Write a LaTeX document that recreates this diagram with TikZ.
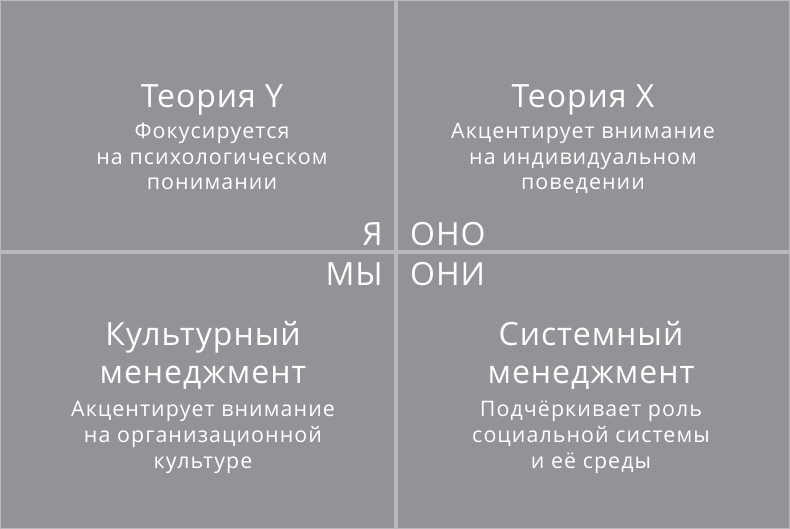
\documentclass[tikz,border=0pt]{standalone}
\usepackage{fontspec}
\setmainfont{Open Sans}[LetterSpace=3]
\newfontfamily\blurbfont{Open Sans}[LetterSpace=5]
\definecolor{quadgray}{HTML}{939397}
\definecolor{rulegray}{HTML}{BABABE}
\tikzset{
  quad/.style={fill=quadgray, draw=none},
  heading/.style={text=white, align=center, anchor=base, inner sep=0pt,
    font=\fontsize{32}{37.7}\selectfont},
  blurb/.style={text=white, align=center, anchor=base, inner sep=0pt,
    font=\blurbfont\fontsize{21.4}{25.8}\selectfont},
  pronoun/.style={text=white, inner sep=0pt, font=\fontsize{32}{37}\selectfont},
}
\begin{document}
\begin{tikzpicture}[x=1pt,y=-1pt]
      \useasboundingbox (0,0) rectangle (790,529);
      \fill[rulegray] (0,0) rectangle (790,529);
      \fill[quad] (1,1) rectangle (394,250);
      \fill[quad] (398,1) rectangle (789,250);
      \fill[quad] (1,254) rectangle (394,528);
      \fill[quad] (398,254) rectangle (789,528);
      % last line of each block sits on the given baseline
      \draw
        (212,108) node[heading] (thy){Теория Y}
        (212,190) node[blurb] (thyt){Фокусируется\\на психологическом\\понимании}
        (583,108) node[heading] (thx){Теория X}
        (583,190) node[blurb] (thxt){Акцентирует внимание\\на индивидуальном\\поведении}
        (203,383) node[heading] (cult){Культурный\\менеджмент}
        (203,468) node[blurb] (cultt){Акцентирует внимание\\на организационной\\культуре}
        (591,383) node[heading] (sys){Системный\\менеджмент}
        (591,468) node[blurb] (syst){Подчёркивает роль\\социальной системы\\и её среды};
      \draw
        (383,246) node[pronoun, anchor=base east] (ya){Я}
        (410,246) node[pronoun, anchor=base west] (ono){ОНО}
        (383,286) node[pronoun, anchor=base east] (my){МЫ}
        (410,286) node[pronoun, anchor=base west] (oni){ОНИ};
    \end{tikzpicture}
\end{document}
